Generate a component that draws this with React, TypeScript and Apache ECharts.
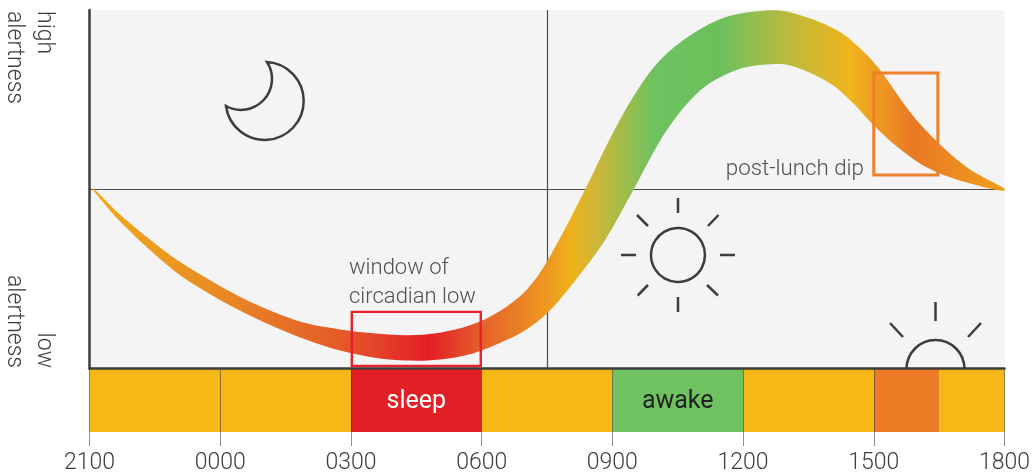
import React, { useEffect, useRef } from "react";
import * as echarts from "echarts";

const tickLabels = ["2100", "0000", "0300", "0600", "0900", "1200", "1500", "1800"];
const upperHours = [0.08, 0.78, 1.92, 2.69, 3.45, 4.21, 4.98, 5.75, 6.51, 7.28, 8.04, 8.8, 9.42, 10.03, 10.52, 11.37, 11.95, 12.48, 13.09, 13.86, 14.62, 15.46, 16.08, 17.15, 17.76, 18.14, 18.68, 19.06, 19.6, 20.2, 21.01];
const upperEdge = [50.35, 42.06, 31, 25.16, 20.03, 15.84, 12.6, 10.9, 9.85, 9.3, 10, 12.33, 16.04, 21.9, 30.27, 49.79, 64.2, 75.8, 86, 93.5, 98.1, 99.8, 99.36, 94.4, 88.4, 83.3, 74, 68.2, 61.6, 55.6, 50.07];
const lowerHours = [0.08, 0.78, 1.92, 2.69, 3.45, 4.21, 4.98, 5.75, 6.51, 7.28, 8.04, 8.8, 9.58, 10.03, 10.52, 11.1, 11.83, 12.48, 13.25, 14.01, 14.78, 15.46, 16.08, 16.99, 17.53, 17.99, 18.53, 19.06, 19.6, 20.2, 20.96];
const lowerEdge = [49.8, 40, 27.5, 21.3, 16.2, 11.8, 8, 5, 3.1, 2.2, 2.5, 4.2, 8, 10.9, 15.6, 23.8, 35.8, 49.8, 66.5, 77.5, 83, 84.7, 84.5, 79.6, 74, 67.9, 61.9, 57.2, 54, 51.7, 49.5];
const blockStarts = [0, 6, 9, 12, 15, 18, 19.5];
const blockEnds = [6, 9, 12, 15, 18, 19.5, 21];
const blockColors = ["#f6b816", "#e31f26", "#f6b816", "#6fc25f", "#f6b816", "#ed7a25", "#f6b816"];
const blockNames = ["", "sleep", "", "awake", "", "", ""];
const blockNameColors = ["", "#ffffff", "", "#222222", "", "", ""];
const windowBoxes = [
  { x0: 6.02, x1: 8.98, y0: 0.7, y1: 15.8, color: "#e8202c", width: 2.4 },
  { x0: 18, x1: 19.47, y0: 54, y1: 82.4, color: "#ef7f28", width: 3 },
];
const FONT = "Roboto";
const INK = "#3d3d3d";

const moon = "M267 62 A39 39 0 1 1 226 106 A31 31 0 0 0 267 62 Z";
echarts.graphic.registerShape("moon", echarts.graphic.extendPath(moon, {}) as any);

const bandStops: [number, string][] = [
  [0, "#f0ab1c"], [0.14, "#e98a24"], [0.28, "#e5562a"], [0.368, "#e31f26"], [0.43, "#e5632a"],
  [0.5, "#ed9a20"], [0.525, "#efb21c"], [0.555, "#c8b73a"], [0.615, "#6ec25f"], [0.69, "#6cc05c"],
  [0.755, "#b5bb42"], [0.83, "#f0b41b"], [0.88, "#ec8a24"], [0.9, "#e97825"], [1, "#f0a01c"],
];

const ray = (x1: number, y1: number, x2: number, y2: number) => ({
  type: "line", shape: { x1, y1, x2, y2 }, style: { stroke: INK, lineWidth: 2.5 }, z: 20,
});

export default function App() {
  const ref = useRef<HTMLDivElement>(null);
  useEffect(() => {
    const chart = echarts.init(ref.current!, undefined, { renderer: "svg" });
    chart.setOption({
      animation: false,
      grid: [
        { left: 89.5, top: 10, width: 915, height: 358.5, show: true, backgroundColor: "#f4f4f4", borderWidth: 0 },
        { left: 89.5, top: 369, width: 915, height: 77, show: false },
      ],
      xAxis: [
        {
          gridIndex: 0, type: "value", min: 0, max: 21, interval: 3,
          axisLine: { show: true, onZero: false, lineStyle: { color: INK, width: 2.5 } },
          axisTick: { show: false }, axisLabel: { show: false }, splitLine: { show: false }, z: 6,
        },
        {
          gridIndex: 1, type: "value", min: 0, max: 21, interval: 3, z: 6,
          axisLine: { show: false }, axisTick: { show: false },
          splitLine: { show: true, lineStyle: { color: "rgba(50,50,50,0.55)", width: 1 } },
          axisLabel: {
            fontFamily: FONT, fontWeight: 300, fontSize: 23, lineHeight: 22, color: INK, margin: 4,
            formatter: (v: number) => tickLabels[Math.round(v / 3)],
            hideOverlap: false,
          },
        },
      ],
      yAxis: [
        {
          gridIndex: 0, type: "value", min: 0, max: 100, z: 6,
          axisLine: { show: true, onZero: false, lineStyle: { color: INK, width: 2.5 } },
          axisTick: { show: false }, axisLabel: { show: false }, splitLine: { show: false },
        },
        {
          gridIndex: 1, type: "value", min: 0, max: 77, show: false,
        },
      ],
      series: [
        {
          type: "line", xAxisIndex: 0, yAxisIndex: 0, showSymbol: false, z: 1,
          lineStyle: { width: 0 }, data: [],
          markLine: {
            silent: true, symbol: "none", z: 1, label: { show: false },
            lineStyle: { color: "#4a4a4a", width: 1.2, type: "solid" },
            data: [{ yAxis: 50 }, { xAxis: 10.5 }],
          },
        },
        {
          type: "custom", xAxisIndex: 0, yAxisIndex: 0, z: 3, clip: false,
          data: upperHours.map((h, i) => [h, upperEdge[i]]).concat(lowerHours.map((h, i) => [h, lowerEdge[i]])),
          encode: { x: 0, y: 1 },
          renderItem: (params: any, api: any) => {
            if (params.dataIndex !== 0) return null;
            const top = upperHours.map((h, i) => api.coord([h, upperEdge[i]]));
            const bottom = lowerHours.map((h, i) => api.coord([h, lowerEdge[i]])).reverse();
            return {
              type: "polygon",
              shape: { points: [...top, ...bottom], smooth: 0.33 },
              style: {
                fill: new echarts.graphic.LinearGradient(0, 0, 1, 0, bandStops.map(([offset, color]) => ({ offset, color }))),
              },
            };
          },
        },
        {
          type: "custom", xAxisIndex: 0, yAxisIndex: 0, z: 4, clip: false,
          data: windowBoxes.map((b) => [b.x0, b.y0, b.x1, b.y1]),
          encode: { x: [0, 2], y: [1, 3] },
          renderItem: (params: any, api: any) => {
            const a = api.coord([api.value(0), api.value(3)]);
            const b = api.coord([api.value(2), api.value(1)]);
            const box = windowBoxes[params.dataIndex];
            return {
              type: "rect",
              shape: { x: a[0], y: a[1], width: b[0] - a[0], height: b[1] - a[1] },
              style: { fill: "none", stroke: box.color, lineWidth: box.width },
            };
          },
        },
        {
          type: "custom", xAxisIndex: 1, yAxisIndex: 1, z: 2, clip: false,
          data: blockStarts.map((s, i) => [s, blockEnds[i]]),
          encode: { x: [0, 1] },
          renderItem: (params: any, api: any) => {
            const i = params.dataIndex;
            const a = api.coord([api.value(0), 77]);
            const b = api.coord([api.value(1), 14]);
            const children: any[] = [
              { type: "rect", shape: { x: a[0], y: a[1], width: b[0] - a[0], height: b[1] - a[1] }, style: { fill: blockColors[i] } },
            ];
            if (blockNames[i]) {
              children.push({
                type: "text",
                style: {
                  text: blockNames[i], x: (a[0] + b[0]) / 2, y: (a[1] + b[1]) / 2 - 1, align: "center", verticalAlign: "middle",
                  fontFamily: FONT, fontSize: 25, fontWeight: 400, fill: blockNameColors[i],
                },
              });
            }
            return { type: "group", children };
          },
        },
      ],
      graphic: [
        {
          type: "text", x: 60, y: 11, rotation: -Math.PI / 2, z: 20,
          style: { text: "high\nalertness", fontFamily: FONT, fontWeight: 300, fontSize: 23, lineHeight: 30, fill: INK, align: "left", verticalAlign: "top" },
        },
        {
          type: "text", x: 60, y: 368, rotation: -Math.PI / 2, z: 20,
          style: { text: "low\nalertness", fontFamily: FONT, fontWeight: 300, fontSize: 23, lineHeight: 30, fill: INK, align: "right", verticalAlign: "top" },
        },
        {
          type: "text", x: 349, y: 252, z: 20,
          style: { text: "window of\ncircadian low", fontFamily: FONT, fontWeight: 300, fontSize: 22, lineHeight: 29, fill: "#4f4f4f", align: "left", verticalAlign: "top" },
        },
        {
          type: "text", x: 864, y: 154, z: 20,
          style: { text: "post-lunch dip", fontFamily: FONT, fontWeight: 300, fontSize: 22.3, lineHeight: 26, fill: "#4f4f4f", align: "right", verticalAlign: "top" },
        },
        { type: "moon", x: 0, y: 0, z: 20, style: { fill: "none", stroke: INK, lineWidth: 2.5 } },
        { type: "circle", shape: { cx: 678, cy: 255, r: 27 }, z: 20, style: { fill: "none", stroke: INK, lineWidth: 2.5 } },
        ray(678, 198, 678, 213), ray(678, 297, 678, 312), ray(621, 255, 636, 255), ray(720, 255, 735, 255),
        ray(637.7, 295.5, 648, 285), ray(707, 285, 718, 295.5), ray(637, 215, 648, 226), ray(708, 226, 718.5, 215),
        { type: "arc", shape: { cx: 935.5, cy: 369, r: 29, startAngle: Math.PI, endAngle: 2 * Math.PI, clockwise: true }, z: 20, style: { fill: "none", stroke: INK, lineWidth: 2.5 } },
        ray(935.5, 302, 935.5, 321), ray(890, 323, 903, 337), ray(968, 337, 981, 323),
      ],
    });
    return () => chart.dispose();
  }, []);
  return <div ref={ref} style={{ position: "fixed", left: 0, top: 0, width: 1036, height: 473 }} />;
}
